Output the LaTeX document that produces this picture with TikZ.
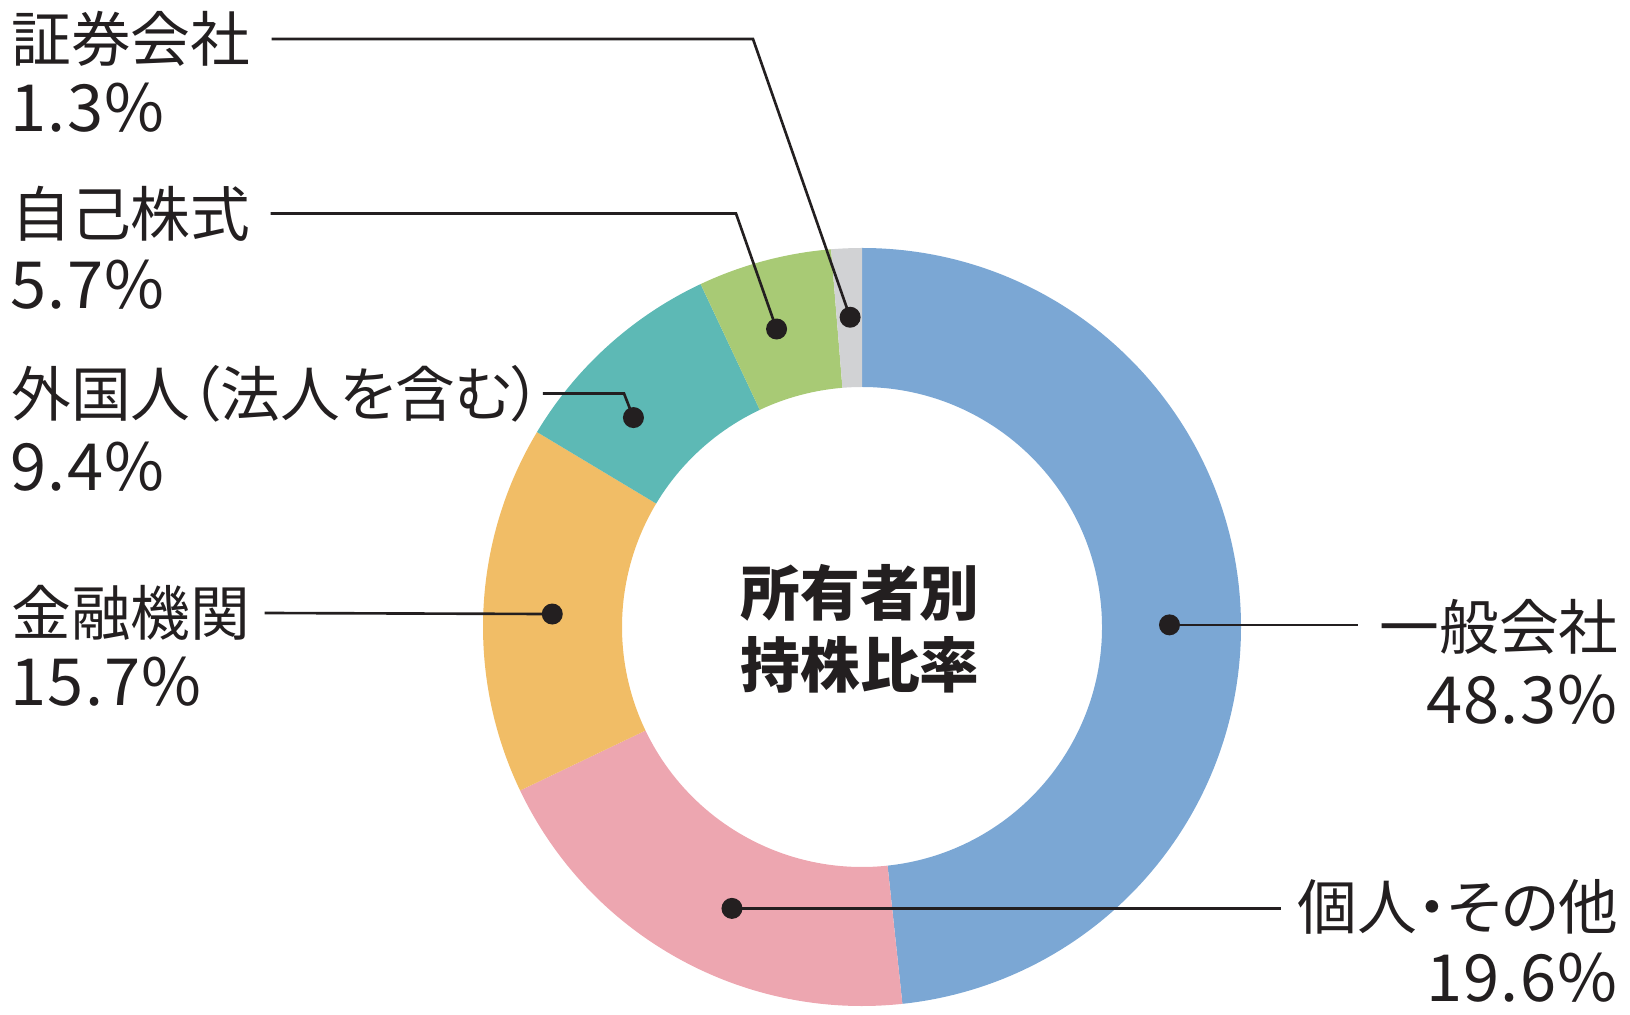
\documentclass[tikz,border=0pt]{standalone}
\usepackage{fontspec}
\setmainfont{Noto Sans CJK JP}[CharacterWidth=AlternateProportional]
\usepackage{tikz}
\definecolor{genblue}{HTML}{7BA7D4}
\definecolor{indpink}{HTML}{EDA6B0}
\definecolor{finorange}{HTML}{F1BD66}
\definecolor{forteal}{HTML}{5DB9B5}
\definecolor{owngreen}{HTML}{A8CA75}
\definecolor{secgrey}{HTML}{D1D2D4}
\definecolor{inkblack}{HTML}{231F20}

\begin{document}
\begin{tikzpicture}[
    leader/.style={inkblack, line width=1.5pt},
    namelabel/.style={inkblack, inner sep=0pt, font=\fontsize{34}{40}\selectfont},
    pctlabel/.style={inkblack, inner sep=0pt, font=\fontsize{37}{44}\selectfont\addfontfeature{LetterSpace=2}},
    centerlabel/.style={inkblack, inner sep=0pt, align=center, font=\bfseries\fontsize{34}{41}\selectfont}
  ]
      \useasboundingbox (-17.24,-7.76) rectangle (15.36,12.54);
      % ring slices, clockwise from the top
      \fill[genblue] (90:7.58) arc[start angle=90, end angle=-83.88, radius=7.58] -- (-83.88:4.8) arc[start angle=-83.88, end angle=90, radius=4.8] -- cycle;
      \fill[indpink] (-83.88:7.58) arc[start angle=-83.88, end angle=-154.44, radius=7.58] -- (-154.44:4.8) arc[start angle=-154.44, end angle=-83.88, radius=4.8] -- cycle;
      \fill[finorange] (-154.44:7.58) arc[start angle=-154.44, end angle=-210.96, radius=7.58] -- (-210.96:4.8) arc[start angle=-210.96, end angle=-154.44, radius=4.8] -- cycle;
      \fill[forteal] (-210.96:7.58) arc[start angle=-210.96, end angle=-244.8, radius=7.58] -- (-244.8:4.8) arc[start angle=-244.8, end angle=-210.96, radius=4.8] -- cycle;
      \fill[owngreen] (-244.8:7.58) arc[start angle=-244.8, end angle=-265.32, radius=7.58] -- (-265.32:4.8) arc[start angle=-265.32, end angle=-244.8, radius=4.8] -- cycle;
      \fill[secgrey] (-265.32:7.58) arc[start angle=-265.32, end angle=-270, radius=7.58] -- (-270:4.8) arc[start angle=-270, end angle=-265.32, radius=4.8] -- cycle;
      % title in the hole
      \node[centerlabel] (title) at (-0.04,-0.04) {所有者別\\持株比率};
      % dots on the ring
      \coordinate (gen-dot) at (0.4:6.15);
      \coordinate (ind-dot) at (-114.8:6.2);
      \coordinate (fin-dot) at (177.6:6.2);
      \coordinate (for-dot) at (137.5:6.2);
      \coordinate (own-dot) at (106:6.2);
      \coordinate (sec-dot) at (92.2:6.2);
      % bends of the leaders
      \coordinate (sec-bend) at (-2.18,11.71);
      \coordinate (own-bend) at (-2.52,8.26);
      \coordinate (for-bend) at (-4.76,4.7);
      % labels, left side
      \node[namelabel, anchor=west] (sec-name) at (-17.02,11.76) {証券会社};
      \node[pctlabel, anchor=west] (sec-pct) at (-17.04,10.38) {1.3\%};
      \node[namelabel, anchor=west] (own-name) at (-17.02,8.27) {自己株式};
      \node[pctlabel, anchor=west] (own-pct) at (-17.04,6.85) {5.7\%};
      \node[namelabel, anchor=west] (for-name) at (-17.02,4.67) {外国人（法人を含む）};
      \node[pctlabel, anchor=west] (for-pct) at (-17.04,3.21) {9.4\%};
      \node[namelabel, anchor=west] (fin-name) at (-17.02,0.28) {金融機関};
      \node[pctlabel, anchor=west] (fin-pct) at (-17.04,-1.1) {15.7\%};
      % labels, right side
      \node[namelabel, anchor=east] (gen-name) at (15.14,0.0) {一般会社};
      \node[pctlabel, anchor=east] (gen-pct) at (15.12,-1.46) {48.3\%};
      \node[namelabel, anchor=east] (ind-name) at (15.14,-5.6) {個人・その他};
      \node[pctlabel, anchor=east] (ind-pct) at (15.12,-7.02) {19.6\%};
      % leaders
      \draw[leader] ([xshift=0.42cm]sec-name.east) -- (sec-name.east -| sec-bend) -- (sec-dot);
      \draw[leader] ([xshift=0.4cm]own-name.east) -- (own-name.east -| own-bend) -- (own-dot);
      \draw[leader] ([xshift=0.02cm]for-name.east) -- (for-name.east -| for-bend) -- (for-dot);
      \draw[leader] ([xshift=0.28cm]fin-name.east) -- (fin-dot);
      \draw[leader, shorten >=0.42cm] (gen-dot) -- (gen-dot -| gen-name.west);
      \draw[leader, shorten >=0.34cm] (ind-dot) -- (ind-dot -| ind-name.west);
      \fill[inkblack] (sec-dot) circle [radius=0.21];
      \fill[inkblack] (own-dot) circle [radius=0.21];
      \fill[inkblack] (for-dot) circle [radius=0.21];
      \fill[inkblack] (fin-dot) circle [radius=0.21];
      \fill[inkblack] (gen-dot) circle [radius=0.21];
      \fill[inkblack] (ind-dot) circle [radius=0.21];
\end{tikzpicture}
\end{document}
